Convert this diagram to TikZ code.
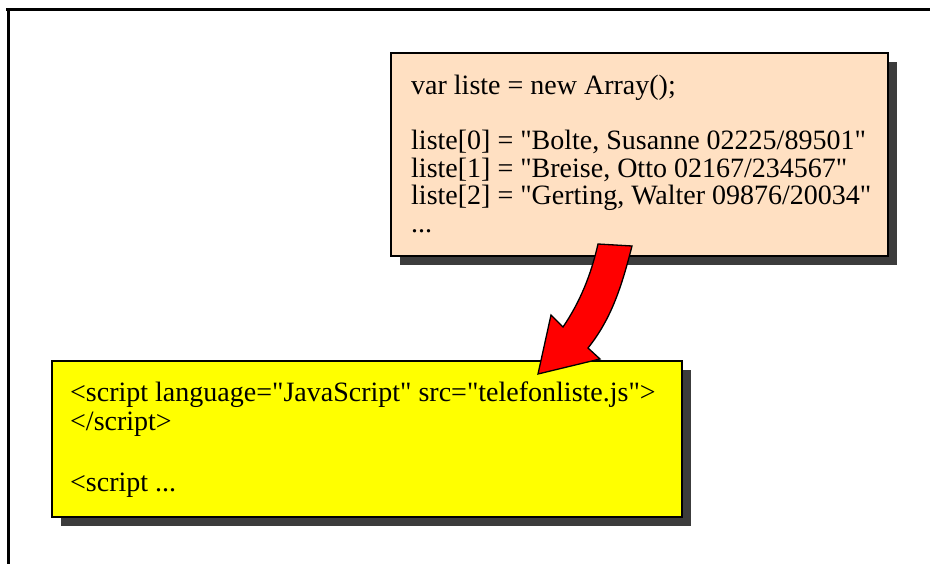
\documentclass[tikz,border=0pt]{standalone}
\usepackage{fontspec}
\setmainfont{Liberation Serif}[Ligatures=TeXOff]
\definecolor{peach}{HTML}{FFE0C2}
\definecolor{shadowgray}{HTML}{3C3C3C}
\definecolor{hiyellow}{HTML}{FFFF00}
\definecolor{arrowred}{HTML}{FF0000}
\begin{document}
\begin{tikzpicture}[x=1pt,y=-1pt,
  frameline/.style={line width=3pt},
  boxshadow/.style={fill=shadowgray,draw=none},
  codebox/.style={draw=black,line width=1.3pt,rectangle,inner sep=0pt,outer sep=0pt},
  codeline/.style={anchor=base west,inner sep=0pt,font=\fontsize{28}{28}\selectfont}
]
\useasboundingbox (0,0) rectangle (930,564);
% frame
\coordinate (ftl) at (8.5,9.5);
\coordinate (ftr) at (930,9.5);
\coordinate (fbl) at (8.5,564);
\draw[frameline] (6,9.5) -- (ftr);
\draw[frameline] (ftl) -- (fbl);
% beige box
\fill[boxshadow] (400,62) rectangle (897,265);
\node[codebox,fill=peach,minimum width=497pt,minimum height=203pt,anchor=north west] (beige) at (391,53) {};
\node[codeline] (b1) at (411,95) {var liste = new Array();};
\node[codeline] (b2) at (411,150) {liste[0] = "Bolte, Susanne 02225/89501"};
\node[codeline] (b3) at (411,177.5) {liste[1] = "Breise, Otto 02167/234567"};
\node[codeline] (b4) at (411,205) {liste[2] = "Gerting, Walter 09876/20034"};
\node[codeline] (b5) at (411,232.5) {...};
% yellow box
\fill[boxshadow] (61,370) rectangle (691,526);
\node[codebox,fill=hiyellow,minimum width=630pt,minimum height=156pt,anchor=north west] (yellow) at (52,361) {};
\node[codeline] (y1) at (70,402) {<script language="JavaScript" src="telefonliste.js">};
\node[codeline] (y2) at (70,430) {</script>};
\node[codeline] (y3) at (70,491) {<script ...};
% arrow
\draw[fill=arrowred,draw=black,line width=1.3pt,line join=miter]
  (598,244) -- (632,246)
  .. controls (622,285) and (612,318) .. (588,348)
  -- (600,359) -- (538,374) -- (551,315) -- (563,327)
  .. controls (580,302) and (591,275) .. (598,244) -- cycle;
\end{tikzpicture}
\end{document}
